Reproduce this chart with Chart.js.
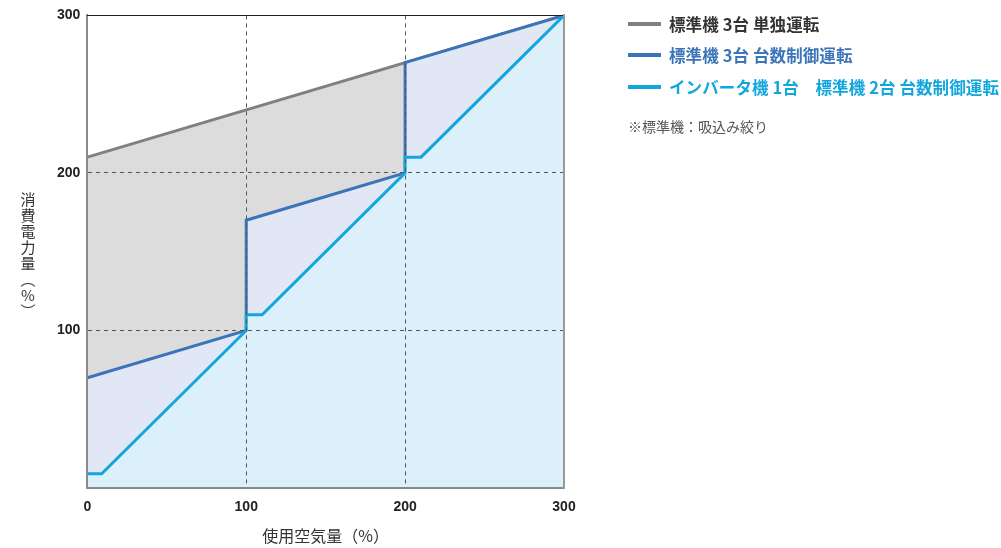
<!DOCTYPE html>
<html>
<head>
<meta charset="utf-8">
<script src="https://cdn.jsdelivr.net/npm/chart.js@4/dist/chart.umd.min.js"></script>
<style>
  body { margin: 0; background: #fff; }
  #wrap { position: relative; width: 1001px; height: 548px; font-family: "Noto Sans CJK JP", sans-serif; }
  #ytitle {
    position: absolute; left: 19px; top: 192px;
    writing-mode: vertical-rl; text-orientation: upright;
    font-size: 15px; color: #333; line-height: 1.1; letter-spacing: 1px;
  }
  #legend { position: absolute; left: 628px; top: 8px; width: 373px; white-space: nowrap; }
  .item { display: flex; align-items: center; height: 31.5px; font-size: 16.5px; font-weight: bold; letter-spacing: 0.1px; }
  .item span.ln { display: inline-block; width: 33px; height: 4px; margin-right: 8px; flex: none; }
  .note { margin-top: 13px; font-size: 14px; color: #555; }
</style>
</head>
<body>
<div id="wrap">
  <canvas id="chart" width="1001" height="548"></canvas>
  <div id="ytitle">消費電力量（%）</div>
  <div id="legend"></div>
</div>
<script>
const seriesNames = ['標準機 3台 単独運転', '標準機 3台 台数制御運転', 'インバータ機 1台　標準機 2台 台数制御運転'];
const lineColors = ['#808080', '#3b74b9', '#12a7dc'];
const textColors = ['#333333', '#3b74b9', '#12a7dc'];
const fillColors = ['#dcdcdd', '#e1e7f4', '#dbf0fb'];
const noteText = '※標準機：吸込み絞り';

// 使用空気量 (%) / 消費電力量 (%)
const grayX = [0, 300];
const grayY = [210, 300];
const blueX = [0, 100, 100, 200, 200, 300];
const blueY = [70, 100, 170, 200, 270, 300];
const cyanX = [0, 9, 100, 100, 110, 200, 200, 210, 300];
const cyanY = [9, 9, 100, 110, 110, 200, 210, 210, 300];

const axisMin = 0;
const axisMax = 300;
const tickStep = 100;
const gridValues = [100, 200];

function pts(xs, ys) {
    return xs.map((x, i) => ({ x: x, y: ys[i] }));
}

const seriesData = [pts(grayX, grayY), pts(blueX, blueY), pts(cyanX, cyanY)];

const datasets = seriesData.map((d, i) => ({
    label: seriesNames[i],
    data: d,
    borderColor: lineColors[i],
    backgroundColor: fillColors[i],
    borderWidth: 3,
    fill: 'origin',
    pointRadius: 0,
    tension: 0,
    order: 3 - i
}));

function gridColor(ctx) {
    return gridValues.includes(ctx.tick && ctx.tick.value) ? '#555' : 'rgba(0,0,0,0)';
}

const tickFont = { family: '"Liberation Sans", Arial, sans-serif', size: 14, weight: 'bold' };

new Chart(document.getElementById('chart'), {
    type: 'line',
    data: { datasets: datasets },
    options: {
        responsive: false,
        animation: false,
        layout: { padding: { left: 50, right: 437, top: 9, bottom: 2 } },
        plugins: { legend: { display: false }, tooltip: { enabled: false } },
        scales: {
            x: {
                type: 'linear', min: axisMin, max: axisMax,
                ticks: { stepSize: tickStep, color: '#222', font: tickFont, padding: 11, maxRotation: 0 },
                grid: { color: gridColor, lineWidth: 1, drawTicks: false, z: 1 },
                border: { color: '#8a8a8a', width: 2, dash: [4, 4], z: 1 },
                title: {
                    display: true, text: '使用空気量（%）', color: '#333',
                    font: { family: '"Noto Sans CJK JP", sans-serif', size: 16 },
                    padding: { top: 0, bottom: 0 }
                }
            },
            y: {
                type: 'linear', min: axisMin, max: axisMax,
                ticks: { stepSize: tickStep, color: '#222', font: tickFont, padding: 7,
                         callback: v => v === 0 ? '' : v },
                grid: { color: gridColor, lineWidth: 1, drawTicks: false, z: 1 },
                border: { color: '#8a8a8a', width: 2, dash: [4, 4], z: 1 }
            },
            xTop: {
                type: 'linear', position: 'top', min: axisMin, max: axisMax,
                ticks: { display: false },
                grid: { display: false, drawTicks: false },
                border: { color: '#222', width: 1, z: 1 }
            },
            yRight: {
                type: 'linear', position: 'right', min: axisMin, max: axisMax,
                ticks: { display: false },
                grid: { display: false, drawTicks: false },
                border: { color: '#999', width: 2, z: 1 }
            }
        }
    }
});

const legend = document.getElementById('legend');
seriesNames.forEach((name, i) => {
    const row = document.createElement('div');
    row.className = 'item';
    row.style.color = textColors[i];
    row.innerHTML = `<span class="ln" style="background:${lineColors[i]}"></span>${name}`;
    legend.appendChild(row);
});
const note = document.createElement('div');
note.className = 'note';
note.innerText = noteText;
legend.appendChild(note);
</script>
</body>
</html>
